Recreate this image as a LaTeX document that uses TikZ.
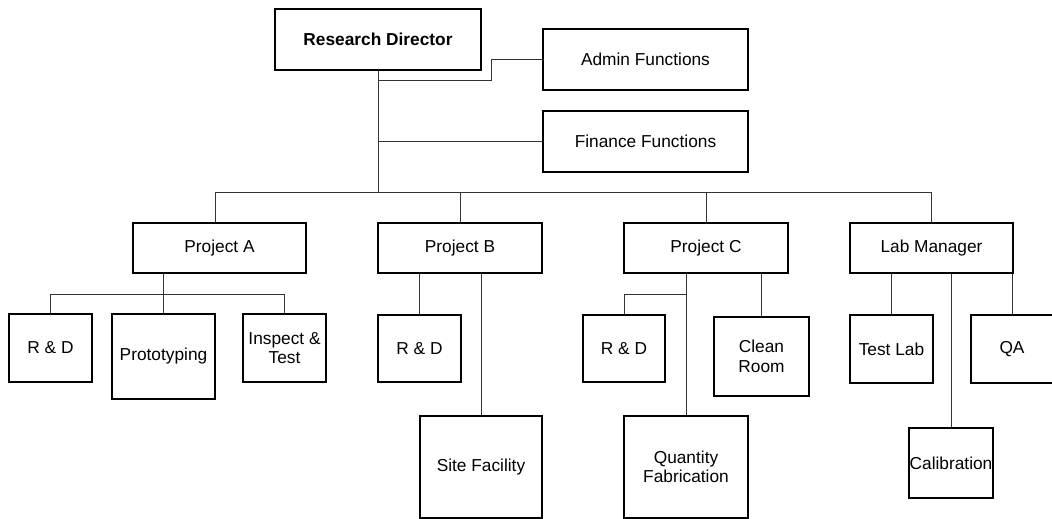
\documentclass[tikz,border=0pt]{standalone}
\usepackage{fontspec}
\setmainfont{Liberation Sans}
\usetikzlibrary{calc}
\begin{document}
\begin{tikzpicture}[x=1pt,y=-1pt,
  box/.style={draw=black, line width=1.5pt, fill=white, inner sep=0pt, align=center,
    font=\fontsize{17.3}{19.4}\selectfont},
  link/.style={draw=black!80, line width=1pt}]
\useasboundingbox (0,0) rectangle (1052,519);

% top level
\node[box, minimum width=206, minimum height=61, font=\fontsize{17.3}{19.4}\selectfont\bfseries] (rd) at (378,39.5) {Research Director};
\node[box, minimum width=205, minimum height=61] (adm) at (645.5,59.5) {Admin Functions};
\node[box, minimum width=205, minimum height=61] (fin) at (645.5,141.5) {Finance Functions};

% second level
\node[box, minimum width=173, minimum height=50] (pa) at (219.5,248) {Project A};
\node[box, minimum width=164, minimum height=50] (pb) at (460,248) {Project B};
\node[box, minimum width=164, minimum height=50] (pc) at (706,248) {Project C};
\node[box, minimum width=163, minimum height=50] (lm) at (931.5,248) {Lab Manager};

% third level
\node[box, minimum width=83, minimum height=68] (rda) at (50.5,348) {R \& D};
\node[box, minimum width=103, minimum height=85] (proto) at (163.5,356.5) {Prototyping};
\node[box, minimum width=83, minimum height=68] (insp) at (284.5,348) {Inspect \&\\Test};
\node[box, minimum width=83, minimum height=67] (rdb) at (419.5,348.5) {R \& D};
\node[box, minimum width=122, minimum height=102] (site) at (481,467) {Site Facility};
\node[box, minimum width=82, minimum height=67] (rdc) at (624,348.5) {R \& D};
\node[box, minimum width=124, minimum height=102] (qf) at (686,467) {Quantity\\Fabrication};
\node[box, minimum width=95, minimum height=79] (clean) at (761.5,356.5) {Clean\\Room};
\node[box, minimum width=83, minimum height=68] (tl) at (891.5,349) {Test Lab};
\node[box, minimum width=82, minimum height=68] (qa) at (1012,349) {QA};
\node[box, minimum width=84, minimum height=70] (cal) at (951,463) {Calibration};

% connector levels
\coordinate (bus) at (0,192);
\coordinate (admY) at (0,80);
\coordinate (paY) at (0,294);

% director to staff functions
\draw[link] (rd.south) -- (rd.south |- bus);
\draw[link] (adm.west) -- ++(-51,0) |- (rd.south |- admY);
\draw[link] (fin.west) -- (fin.west -| rd.south);

% director to second level
\draw[link] ($(pa.north)+(-4.5,0)$) |- (lm.north |- bus) -- (lm.north);
\draw[link] (pb.north) -- (pb.north |- bus);
\draw[link] (pc.north) -- (pc.north |- bus);

% Project A
\draw[link] (proto.north) -- (proto.north |- pa.south);
\draw[link] (rda.north) |- (insp.north |- paY) -- (insp.north);

% Project B
\draw[link] (rdb.north) -- (rdb.north |- pb.south);
\draw[link] (site.north) -- (site.north |- pb.south);

% Project C
\draw[link] (qf.north) -- (qf.north |- pc.south);
\draw[link] (rdc.north) |- (qf.north |- paY);
\draw[link] (clean.north) -- (clean.north |- pc.south);

% Lab Manager
\draw[link] (tl.north) -- (tl.north |- lm.south);
\draw[link] (cal.north) -- (cal.north |- lm.south);
\draw[link] (qa.north) -- (qa.north |- lm.south);
\end{tikzpicture}
\end{document}
